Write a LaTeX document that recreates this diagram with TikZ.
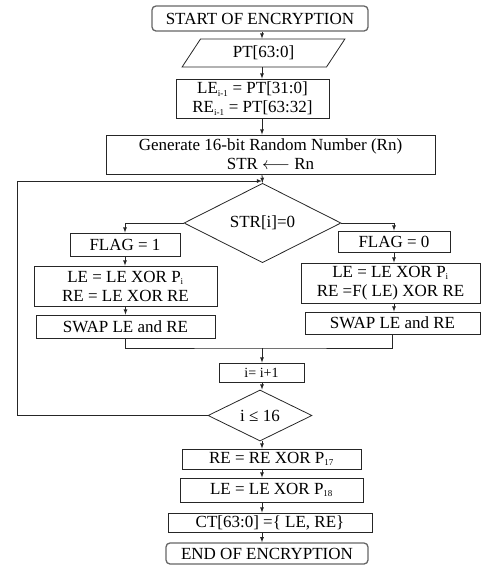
\documentclass[tikz,border=0pt]{standalone}
\usepackage{fontspec}
\setmainfont{Liberation Serif}
\usetikzlibrary{shapes,arrows}
\newcommand{\idx}[1]{\textsubscript{\fontsize{9}{9}\selectfont #1}}

\begin{document}
\begin{tikzpicture}[x=1pt, y=-1pt, >=latex, line width=0.8pt, draw=black!85,
        every node/.style={draw, font=\fontsize{17}{19}\selectfont, inner sep=1pt, align=center},
        box/.style={rectangle},
        term/.style={rectangle, rounded corners=4pt, line width=1.3pt, draw=black!60},
        io/.style={trapezium, trapezium left angle=60, trapezium right angle=120, trapezium stretches=true},
        cond/.style={diamond, inner sep=0pt}]

    \useasboundingbox (0,0) rectangle (481,566);

    \node[term, minimum width=216pt, minimum height=25pt] (start) at (260,18.5) {START OF ENCRYPTION};
    \node[io, minimum width=163pt, minimum height=28pt] (pt) at (263.5,53) {PT[63:0]};
    \node[box, minimum width=153pt, minimum height=39pt] (init) at (252.5,98.5)
        {LE\idx{i-1} = PT[31:0]\\RE\idx{i-1} = PT[63:32]};
    \node[box, minimum width=329pt, minimum height=39pt] (gen) at (270.5,154.5)
        {Generate 16-bit Random Number (Rn)\\STR $\longleftarrow$ Rn};
    \node[cond, minimum width=157pt, minimum height=64pt] (chk) at (262.5,223) {STR[i]=0};

    \node[box, minimum width=110pt, minimum height=23pt] (flaga) at (125,244.5) {FLAG = 1};
    \node[box, minimum width=183pt, minimum height=40pt] (xora) at (125.5,286)
        {LE = LE XOR P\idx{i}\\RE = LE XOR RE};
    \node[box, minimum width=179pt, minimum height=23pt] (swapa) at (125.5,326.5) {SWAP LE and RE};

    \node[box, minimum width=112pt, minimum height=21pt] (flagb) at (394,241.5) {FLAG = 0};
    \node[box, minimum width=179pt, minimum height=40pt] (xorb) at (390.5,283)
        {LE = LE XOR P\idx{i}\\RE =F( LE) XOR RE};
    \node[box, minimum width=175pt, minimum height=22pt] (swapb) at (392.5,323) {SWAP LE and RE};

    \node[box, minimum width=85pt, minimum height=19pt, font=\fontsize{14}{15}\selectfont] (inc) at (261.5,372.5) {i= i+1};
    \node[cond, minimum width=104pt, minimum height=45pt] (cnt) at (260,415.5) {i ≤ 16};
    \node[box, minimum width=179pt, minimum height=20pt] (fina) at (271.5,459) {RE = RE XOR P\idx{17}};
    \node[box, minimum width=183pt, minimum height=24pt] (finb) at (271.5,490) {LE = LE XOR P\idx{18}};
    \node[box, minimum width=204pt, minimum height=19pt] (ct) at (270,522.5) {CT[63:0] =\{ LE, RE\}};
    \node[term, minimum width=202pt, minimum height=21pt] (stop) at (267,553.5) {END OF ENCRYPTION};

    \coordinate (ax) at (262,0);
    \coordinate (loop) at (17,181);
    \coordinate (top) at (262,181);
    \coordinate (join) at (262,348);

    \draw[->] (start.south -| ax) -- (pt.north -| ax);
    \draw[->] (pt.south -| ax) -- (init.north -| ax);
    \draw[->] (init.south -| ax) -- (gen.north -| ax);
    \draw[->] (gen.south -| ax) -- (chk.north);
    \draw[->] (chk.west) -| (flaga.north);
    \draw[->] (chk.east) -| (flagb.north);
    \draw[->] (flaga.south) -- (flaga.south |- xora.north);
    \draw[->] (xora.south) -- (swapa.north);
    \draw[->] (flagb.south) -- (flagb.south |- xorb.north);
    \draw[->] (xorb.south -| flagb) -- (swapb.north -| flagb);
    \draw (swapa.south) |- (join) -| (swapb.south);
    \draw[->] (join) -- (inc.north -| join);
    \draw[->] (inc.south -| ax) -- (cnt.north -| ax);
    \draw[->] (cnt.west) -| (loop) -- (top);
    \draw[->] (cnt.south -| ax) -- (fina.north -| ax);
    \draw[->] (fina.south -| ax) -- (finb.north -| ax);
    \draw[->] (finb.south -| ax) -- (ct.north -| ax);
    \draw[->] (ct.south -| ax) -- (stop.north -| ax);
\end{tikzpicture}
\end{document}
